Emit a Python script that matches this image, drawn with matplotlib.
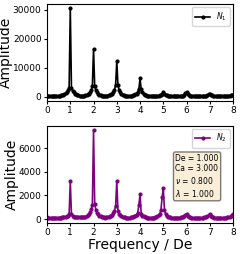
import numpy as np
import matplotlib
matplotlib.use("Agg")
import matplotlib.pyplot as plt

# frequency grid (in units of De)
freq = np.linspace(0, 8, 161)

# amplitude spectra
amp_n1 = [300, 250, 200, 180, 170, 170, 180, 200, 230, 270, 320,
          380, 450, 550, 700, 900, 1200, 1600, 2200, 3100, 30500,
          3000, 2100, 1500, 1100, 800, 600, 450, 350, 280, 250,
          300, 380, 480, 620, 820, 1100, 1500, 2200, 3800, 16500,
          3600, 2200, 1500, 1050, 750, 550, 420, 320, 260, 230,
          280, 350, 450, 600, 800, 1100, 1600, 2400, 4200, 12300,
          4000, 2300, 1500, 1000, 700, 500, 380, 300, 240, 200,
          240, 300, 380, 480, 620, 820, 1100, 1600, 2700, 6300,
          2600, 1500, 1000, 700, 500, 370, 290, 230, 190, 170,
          180, 200, 230, 270, 320, 390, 480, 650, 900, 1500,
          880, 600, 450, 350, 280, 230, 200, 180, 160, 150,
          160, 180, 200, 230, 270, 330, 420, 600, 1300, 1500,
          800, 500, 380, 300, 240, 200, 180, 160, 150, 145,
          150, 160, 180, 200, 240, 290, 370, 500, 800, 1000,
          750, 480, 350, 270, 220, 190, 170, 155, 145, 140,
          150, 160, 180, 210, 250, 300, 380, 500, 700, 500]

amp_n2 = [150, 130, 110, 100, 95, 90, 90, 95, 100, 110, 120,
          130, 140, 150, 165, 180, 200, 230, 280, 420, 3200,
          400, 270, 220, 190, 170, 160, 155, 150, 150, 155,
          170, 190, 220, 260, 320, 420, 580, 850, 1200, 7500,
          1300, 800, 550, 400, 300, 240, 200, 170, 150, 140,
          150, 170, 200, 240, 300, 380, 500, 700, 1150, 3200,
          700, 450, 320, 250, 200, 170, 150, 135, 125, 120,
          130, 145, 165, 190, 230, 290, 380, 550, 1200, 2100,
          450, 300, 230, 190, 160, 140, 130, 120, 115, 115,
          125, 140, 160, 190, 240, 320, 450, 800, 1850, 2600,
          800, 400, 280, 210, 170, 145, 130, 120, 110, 105,
          110, 115, 125, 135, 150, 170, 200, 250, 350, 450,
          300, 200, 160, 140, 125, 115, 110, 105, 100, 100,
          105, 110, 120, 130, 145, 165, 195, 240, 330, 400,
          300, 200, 160, 140, 125, 115, 110, 105, 100, 100,
          105, 110, 120, 130, 145, 165, 195, 240, 330, 450]

params_text = "De = 1.000\nCa = 3.000\n$\\nu$ = 0.800\n$\\lambda$ = 1.000"

fig, (ax1, ax2) = plt.subplots(2, 1, figsize=(2.4, 2.54), dpi=100)
fig.subplots_adjust(left=0.196, right=0.971, top=0.984, bottom=0.124, hspace=0.26)

ax1.plot(freq, amp_n1, color="black", marker="o", markersize=2, linewidth=1.2, label="$N_1$")
ax2.plot(freq, amp_n2, color="purple", marker="o", markersize=2, linewidth=1.2, label="$N_2$")

for ax in (ax1, ax2):
    ax.set_xlim(0, 8)
    ax.set_xticks(range(9))
    ax.set_ylabel("Amplitude", fontsize=10, labelpad=0)
    ax.tick_params(labelsize=6.5, length=2.5, pad=1.5)
    ax.legend(loc="upper right", fontsize=5.5, borderaxespad=0.4)

ax1.set_yticks([0, 10000, 20000, 30000])
ax2.set_yticks([0, 2000, 4000, 6000])
ax2.set_xlabel("Frequency / De", fontsize=10, labelpad=1)

ax2.text(0.69, 0.71, params_text, transform=ax2.transAxes, fontsize=5.5,
         va="top", ha="left",
         bbox=dict(boxstyle="round,pad=0.25", facecolor="wheat", alpha=0.5))

fig.savefig("out.png", dpi=100)
